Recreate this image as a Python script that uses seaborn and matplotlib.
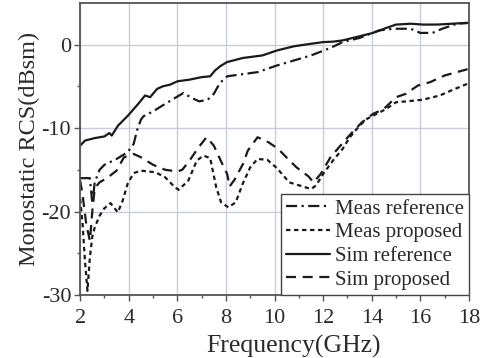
import numpy as np
import pandas as pd
import matplotlib.pyplot as plt
import seaborn as sns

# values (GHz, dBsm)
meas_ref_f = [2.0, 2.2, 2.4, 2.45, 2.5, 2.6, 2.8, 3.0, 3.5, 3.95, 4.2, 4.35, 4.5, 4.6, 5.0, 5.5,
              5.9, 6.25, 6.6, 6.9, 7.25, 7.5, 7.75, 7.9, 8.05, 8.3, 9.3, 10.1, 10.8, 11.5, 12.3,
              12.8, 13.5, 14.3, 14.9, 15.6, 16.0, 16.5, 16.9, 17.5, 18.0]
meas_ref_v = [-16.0, -16.0, -16.0, -17.5, -19.0, -16.5, -15.0, -14.4, -13.7, -12.9, -11.9, -10.2, -9.0,
              -8.6, -8.0, -7.1, -6.4, -5.8, -6.4, -6.8, -6.6, -5.9, -4.6, -4.2, -3.8, -3.7, -3.3, -2.5,
              -1.9, -1.3, -0.4, 0.3, 0.8, 1.7, 1.9, 1.9, 1.4, 1.4, 1.9, 2.5, 2.6]

meas_prop_f = [2.0, 2.1, 2.2, 2.3, 2.4, 2.5, 2.6, 2.8, 3.0, 3.25, 3.55, 3.75, 3.95, 4.2, 4.5, 5.1,
               5.5, 5.9, 6.05, 6.45, 6.8, 7.07, 7.35, 7.6, 7.8, 8.1, 8.4, 8.7, 9.0, 9.3, 9.7, 10.1,
               10.6, 11.05, 11.5, 11.7, 12.0, 12.4, 12.8, 13.1, 13.5, 13.8, 14.2, 14.6, 15.0, 15.45,
               16.1, 16.8, 17.35, 17.85, 18.0]
meas_prop_v = [-18.5, -21.5, -26.0, -29.5, -25.5, -23.0, -21.9, -20.5, -19.6, -19.0, -20.1, -18.7,
               -16.7, -15.4, -15.1, -15.3, -15.9, -17.1, -17.4, -16.3, -13.9, -13.3, -13.6, -17.1,
               -18.9, -19.5, -18.9, -16.6, -14.7, -13.7, -13.8, -14.8, -16.5, -16.9, -17.3, -16.9,
               -15.5, -13.9, -12.5, -11.1, -9.7, -8.9, -8.3, -7.7, -6.9, -6.8, -6.6, -6.1, -5.4,
               -4.8, -4.6]

sim_ref_f = [2.0, 2.2, 2.6, 3.0, 3.2, 3.3, 3.56, 3.97, 4.39, 4.67, 4.88, 5.17, 5.4, 5.7, 6.0, 6.5,
             7.0, 7.35, 7.55, 7.76, 8.04, 8.7, 9.5, 10.1, 10.8, 11.5, 12.0, 12.4, 12.8, 13.5, 14.05,
             14.6, 15.0, 15.6, 16.1, 16.7, 17.3, 17.9, 18.0]
sim_ref_v = [-12.1, -11.5, -11.2, -11.0, -10.6, -10.9, -9.7, -8.5, -7.1, -6.1, -6.3, -5.3, -5.0,
             -4.8, -4.4, -4.2, -3.9, -3.8, -3.1, -2.6, -2.1, -1.6, -1.3, -0.7, -0.2, 0.1, 0.3, 0.35,
             0.5, 1.0, 1.4, 2.0, 2.4, 2.5, 2.4, 2.4, 2.5, 2.6, 2.6]

sim_prop_f = [2.0, 2.1, 2.25, 2.4, 2.5, 2.6, 2.8, 3.1, 3.5, 3.8, 4.2, 4.5, 5.0, 5.5, 6.0, 6.2, 6.5,
              6.85, 7.2, 7.5, 7.8, 8.05, 8.15, 8.35, 8.7, 8.9, 9.3, 9.75, 10.15, 10.55, 10.9, 11.4,
              11.6, 11.9, 12.3, 12.8, 13.2, 13.6, 14.05, 14.5, 15.0, 15.4, 15.9, 16.4, 17.0, 17.5, 18.0]
sim_prop_v = [-16.3, -18.0, -21.5, -23.5, -20.0, -17.2, -16.5, -16.0, -15.1, -13.5, -13.1, -13.5,
              -14.4, -15.0, -15.2, -15.0, -13.9, -12.4, -11.1, -12.1, -14.0, -15.5, -17.0, -16.2,
              -14.3, -12.7, -11.1, -11.7, -12.5, -13.7, -14.7, -15.8, -16.5, -15.5, -13.5, -11.8,
              -10.5, -9.3, -8.3, -7.7, -6.3, -5.9, -4.9, -4.5, -3.7, -3.3, -2.9]

labels = ['Meas reference', 'Meas proposed', 'Sim reference', 'Sim proposed']
x_ticks = [2, 4, 6, 8, 10, 12, 14, 16, 18]
y_ticks = [-30, -20, -10, 0]

sns.set_style('ticks')
plt.rcParams['font.family'] = ['Liberation Serif', 'DejaVu Serif']
plt.rcParams['axes.unicode_minus'] = False

fig = plt.figure(figsize=(4.8, 3.58), dpi=100)
ax = fig.add_axes([0.167, 0.176, 0.810, 0.816])

lw = 1.6
dark = '#1a1a1a'
sns.lineplot(x=meas_ref_f, y=meas_ref_v, ax=ax, color=dark, lw=lw,
             linestyle=(0, (5, 2, 1, 2)), label=labels[0], sort=False, estimator=None)
sns.lineplot(x=meas_prop_f, y=meas_prop_v, ax=ax, color=dark, lw=lw,
             linestyle=(0, (2, 1.6)), label=labels[1], sort=False, estimator=None)
sns.lineplot(x=sim_ref_f, y=sim_ref_v, ax=ax, color=dark, lw=lw,
             linestyle='-', label=labels[2], sort=False, estimator=None)
sns.lineplot(x=sim_prop_f, y=sim_prop_v, ax=ax, color=dark, lw=lw,
             linestyle=(0, (4.5, 3)), label=labels[3], sort=False, estimator=None)

ax.set_xlim(2, 18)
ax.set_ylim(-30, 5)
ax.set_xticks(x_ticks)
ax.set_yticks(y_ticks)
ax.set_xticks(np.arange(3, 18, 2), minor=True)
ax.set_yticks([-25, -15, -5], minor=True)
ax.grid(True, which='major', color='#c9cdd9', lw=1.0)
ax.set_axisbelow(True)

txt = '#2a2a2a'
for s in ax.spines.values():
    s.set_visible(True)
    s.set_color('#555555')
    s.set_linewidth(1.3)
ax.tick_params(which='major', direction='out', length=4, width=1.0, colors='#555555',
               labelcolor=txt, labelsize=16, pad=2.5)
ax.tick_params(axis='x', which='major', pad=6)
ax.tick_params(which='minor', direction='out', length=2, width=1.0, colors='#555555')

ax.set_xlabel('Frequency(GHz)', fontsize=18.5, color=txt)
ax.xaxis.set_label_coords(0.55, -0.135, transform=ax.transAxes)
ax.xaxis.label.set_va('top')
ax.set_ylabel('Monostatic RCS(dBsm)', fontsize=17.5, color=txt, labelpad=1)

leg = ax.legend(loc='lower right', fontsize=15, frameon=True, fancybox=False,
                handlelength=2.1, handletextpad=0.25, labelspacing=0.2,
                borderpad=0.25, borderaxespad=0.0, labelcolor=txt)
leg.get_frame().set_edgecolor('#444444')
leg.get_frame().set_linewidth(1.0)
leg.get_frame().set_alpha(1.0)

fig.savefig('out.png', dpi=100)
